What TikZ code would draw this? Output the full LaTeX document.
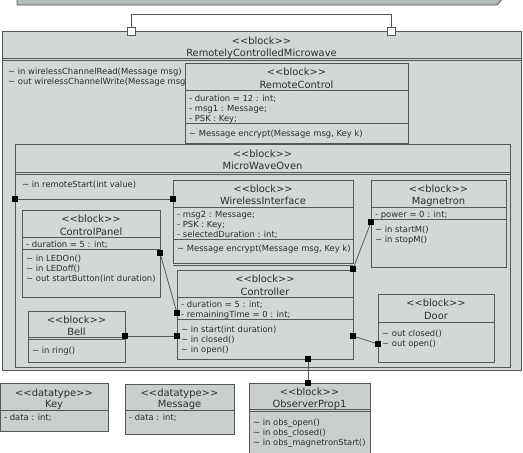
\documentclass[tikz,border=0pt]{standalone}
\usepackage{fontspec}
\setmainfont{DejaVu Sans}[Ligatures=TeXOff]
\usepackage{xcolor}
\usepackage{tikz}
\usetikzlibrary{positioning}

\definecolor{blockfill}{RGB}{211,216,215}
\definecolor{dtfill}{RGB}{202,207,206}
\definecolor{barfill}{RGB}{178,186,184}
\definecolor{lineclr}{RGB}{85,88,88}
\definecolor{txtclr}{RGB}{45,45,45}
\newcommand{\vtl}{\textasciitilde}

\tikzset{
  blockbox/.style={draw=lineclr, fill=blockfill, line width=0.8pt},
  dtbox/.style={draw=lineclr, fill=dtfill, line width=0.8pt},
  sep/.style={draw=lineclr, line width=0.8pt},
  stereo/.style={font=\fontsize{9.9}{11}\selectfont, text=txtclr, anchor=base, inner sep=0pt},
  body/.style={font=\fontsize{8.4}{10}\selectfont, text=txtclr, anchor=base west, align=left, inner sep=0pt},
  port/.style={fill=black, minimum size=5.5pt, inner sep=0pt},
  openport/.style={draw=lineclr, fill=white, minimum size=8pt, inner sep=0pt, line width=0.8pt},
  wire/.style={draw=lineclr, line width=0.8pt},
}

\begin{document}
\begin{tikzpicture}[x=1pt, y=-1pt]
    \useasboundingbox (0,0) rectangle (523,453);

    % Top bar
    \draw[line width=0.8pt, draw=lineclr, fill=barfill] (17,-3) -- (17,5) -- (497,5) -- (504,-3) -- cycle;

    % Outer block
    \draw[blockbox] (2,31) rectangle (521,370);
    \draw[sep] (2,58) -- (521,58);
    \draw[sep] (2,60) -- (521,60);
    \node[stereo] (rcmStereo) at (261.5,44.5) {<<block>>};
    \node[stereo] (rcmName) at (261.5,56.5) {RemotelyControlledMicrowave};
    % (base of a multi-line node = its last line)
    \node[body] (rcmOps) at (8,84) {\vtl{} in wirelessChannelRead(Message msg)\\\vtl{} out wirelessChannelWrite(Message msg)};

    % Ports of the outer block
    \node[openport] (rcmPortA) at (131,31) {};
    \node[openport] (rcmPortB) at (391,31) {};
    \draw[wire] (rcmPortA) -- ++(0,-17) -| (rcmPortB);

    % RemoteControl
    \draw[blockbox] (185,63) rectangle (408,143);
    \draw[sep] (185,90) -- (408,90);
    \draw[sep] (185,123) -- (408,123);
    \node[stereo] (rcStereo) at (296.5,75.5) {<<block>>};
    \node[stereo] (rcName) at (296.5,88) {RemoteControl};
    \node[body] (rcAttr) at (189,121) {- duration = 12 : int;\\- msg1 : Message;\\- PSK : Key;};
    \node[body] (rcOps) at (189,136) {\vtl{} Message encrypt(Message msg, Key k)};

    % MicroWaveOven
    \draw[blockbox] (15,144) rectangle (510,367);
    \draw[sep] (15,172) -- (510,172);
    \draw[sep] (15,174) -- (510,174);
    \node[stereo] (mwoStereo) at (262.5,157.5) {<<block>>};
    \node[stereo] (mwoName) at (262.5,169.5) {MicroWaveOven};
    \node[body] (mwoOps) at (22,187) {\vtl{} in remoteStart(int value)};

    % WirelessInterface
    \draw[blockbox] (173,180) rectangle (353,263);
    \draw[sep] (173,265) -- (353,265);
    \draw[sep] (173,207) -- (353,207);
    \draw[sep] (173,239) -- (353,239);
    \node[stereo] (wiStereo) at (263,192.5) {<<block>>};
    \node[stereo] (wiName) at (263,204.5) {WirelessInterface};
    \node[body] (wiAttr) at (177,237) {- msg2 : Message;\\- PSK : Key;\\- selectedDuration : int;};
    \node[body] (wiOps) at (177,251) {\vtl{} Message encrypt(Message msg, Key k)};

    % Magnetron
    \draw[blockbox] (371,180) rectangle (506,267);
    \draw[sep] (371,207) -- (506,207);
    \draw[sep] (371,219) -- (506,219);
    \node[stereo] (magStereo) at (438.5,192.5) {<<block>>};
    \node[stereo] (magName) at (438.5,204.5) {Magnetron};
    \node[body] (magAttr) at (375,217) {- power = 0 : int;};
    \node[body] (magOps) at (375,242) {\vtl{} in startM()\\\vtl{} in stopM()};

    % ControlPanel
    \draw[blockbox] (22,210) rectangle (160,297);
    \draw[sep] (22,237) -- (160,237);
    \draw[sep] (22,249) -- (160,249);
    \node[stereo] (cpStereo) at (91,222.5) {<<block>>};
    \node[stereo] (cpName) at (91,235) {ControlPanel};
    \node[body] (cpAttr) at (26,247) {- duration = 5 : int;};
    \node[body] (cpOps) at (26,281) {\vtl{} in LEDOn()\\\vtl{} in LEDoff()\\\vtl{} out startButton(int duration)};

    % Controller
    \draw[blockbox] (177,270) rectangle (353,359);
    \draw[sep] (177,297) -- (353,297);
    \draw[sep] (177,319) -- (353,319);
    \node[stereo] (ctrlStereo) at (265,282.5) {<<block>>};
    \node[stereo] (ctrlName) at (265,295) {Controller};
    \node[body] (ctrlAttr) at (181,317) {- duration = 5 : int;\\- remainingTime = 0 : int;};
    \node[body] (ctrlOps) at (181,352) {\vtl{} in start(int duration)\\\vtl{} in closed()\\\vtl{} in open()};

    % Bell
    \draw[blockbox] (28,311) rectangle (125,362);
    \draw[sep] (28,337) -- (125,337);
    \draw[sep] (28,339) -- (125,339);
    \node[stereo] (bellStereo) at (76.5,323.5) {<<block>>};
    \node[stereo] (bellName) at (76.5,335) {Bell};
    \node[body] (bellOps) at (32,353) {\vtl{} in ring()};

    % Door
    \draw[blockbox] (378,294) rectangle (494,362);
    \draw[sep] (378,322) -- (494,322);
    \node[stereo] (doorStereo) at (436,306.5) {<<block>>};
    \node[stereo] (doorName) at (436,319.5) {Door};
    \node[body] (doorOps) at (382,346) {\vtl{} out closed()\\\vtl{} out open()};

    % Ports inside MicroWaveOven
    \node[port] (mwoIn) at (15,199) {};
    \node[port] (wiIn) at (173,199) {};
    \node[port] (cpOut) at (160,253) {};
    \node[port] (ctrlIn) at (177,313) {};
    \node[port] (bellIn) at (125,336) {};
    \node[port] (ctrlBell) at (177,336) {};
    \node[port] (magIn) at (371,222) {};
    \node[port] (ctrlMag) at (353,269) {};
    \node[port] (ctrlDoor) at (353,336) {};
    \node[port] (doorIn) at (378,344) {};
    \node[port] (ctrlObs) at (308,359) {};

    % Connectors
    \draw[wire] (mwoIn) -- (wiIn);
    \draw[wire] (cpOut) -- (ctrlIn);
    \draw[wire] (bellIn) -- (ctrlBell);
    \draw[wire] (magIn) -- (ctrlMag);
    \draw[wire] (ctrlDoor) -- (doorIn);

    % Key
    \draw[dtbox] (0,383) rectangle (108,431);
    \draw[sep] (0,410) -- (108,410);
    \node[stereo] (keyStereo) at (54,396.5) {<<datatype>>};
    \node[stereo] (keyName) at (54,407.5) {Key};
    \node[body] (keyAttr) at (4,420) {- data : int;};

    % Message
    \draw[dtbox] (125,384) rectangle (234,434);
    \draw[sep] (125,410) -- (234,410);
    \node[stereo] (msgStereo) at (179.5,396.5) {<<datatype>>};
    \node[stereo] (msgName) at (179.5,407.5) {Message};
    \node[body] (msgAttr) at (129,420) {- data : int;};

    % ObserverProp1
    \draw[dtbox] (249,383) rectangle (370,456);
    \draw[sep] (249,409) -- (370,409);
    \draw[sep] (249,411) -- (370,411);
    \node[stereo] (obsStereo) at (309.5,395.5) {<<block>>};
    \node[stereo] (obsName) at (309.5,407) {ObserverProp1};
    \node[body] (obsOps) at (253,445) {\vtl{} in obs\_open()\\\vtl{} in obs\_closed()\\\vtl{} in obs\_magnetronStart()};
    \node[port] (obsIn) at (308,383) {};
    \draw[wire] (ctrlObs) -- (obsIn);
\end{tikzpicture}
\end{document}
